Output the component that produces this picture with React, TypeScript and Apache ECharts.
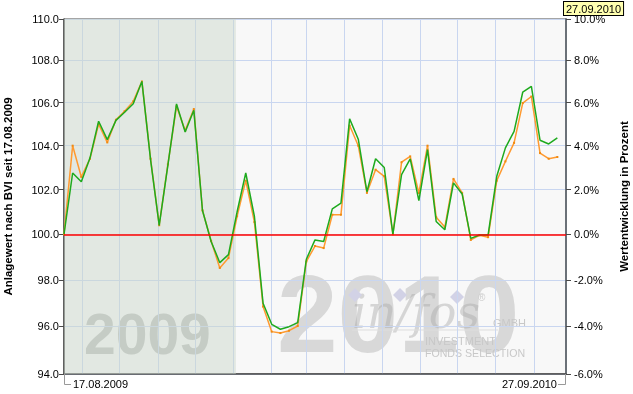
import React, { useEffect, useRef } from "react";
import * as echarts from "echarts";

// weekly valuation dates (Mondays)
const dates = [
  "2009-08-17", "2009-08-24", "2009-08-31", "2009-09-07", "2009-09-14", "2009-09-21", "2009-09-28",
  "2009-10-05", "2009-10-12", "2009-10-19", "2009-10-26", "2009-11-02", "2009-11-09", "2009-11-16",
  "2009-11-23", "2009-11-30", "2009-12-07", "2009-12-14", "2009-12-21", "2009-12-28", "2010-01-04",
  "2010-01-11", "2010-01-18", "2010-01-25", "2010-02-01", "2010-02-08", "2010-02-15", "2010-02-22",
  "2010-03-01", "2010-03-08", "2010-03-15", "2010-03-22", "2010-03-29", "2010-04-05", "2010-04-12",
  "2010-04-19", "2010-04-26", "2010-05-03", "2010-05-10", "2010-05-17", "2010-05-24", "2010-05-31",
  "2010-06-07", "2010-06-14", "2010-06-21", "2010-06-28", "2010-07-05", "2010-07-12", "2010-07-19",
  "2010-07-26", "2010-08-02", "2010-08-09", "2010-08-16", "2010-08-23", "2010-08-30", "2010-09-06",
  "2010-09-13", "2010-09-20",
];

const orangeValues = [
  100.0, 104.0, 102.57, 103.4, 105.0, 104.15, 105.2, 105.6, 106.06, 107.0,
  103.4, 100.4, 103.14, 105.83, 104.7, 105.7, 101.06, 99.7, 98.52, 98.95,
  100.8, 102.4, 100.54, 96.85, 95.78, 95.72, 95.82, 96.02, 98.8, 99.48,
  99.39, 100.87, 100.87, 104.93, 104.0, 101.85, 102.9, 102.6, 100.0, 103.24,
  103.51, 101.84, 104.0, 100.76, 100.32, 102.48, 101.85, 99.75, 99.95, 99.87,
  102.4, 103.28, 104.13, 105.98, 106.29, 103.66, 103.4, 103.48,
];

const greenValues = [
  100.0, 102.75, 102.35, 103.43, 105.13, 104.28, 105.17, 105.55, 105.95, 107.0,
  103.36, 100.39, 103.1, 105.94, 104.63, 105.64, 101.06, 99.68, 98.75, 99.1,
  101.0, 102.75, 100.79, 96.99, 96.09, 95.88, 95.99, 96.16, 98.9, 99.75,
  99.68, 101.13, 101.39, 105.24, 104.3, 101.9, 103.4, 103.0, 100.0, 102.68,
  103.39, 101.5, 103.82, 100.57, 100.2, 102.3, 101.8, 99.82, 99.97, 99.97,
  102.6, 103.9, 104.66, 106.49, 106.77, 104.25, 104.08, 104.36,
];

const yTicks = [94, 96, 98, 100, 102, 104, 106, 108, 110];
const monthTicks = [
  "2009-09-01", "2009-10-01", "2009-11-01", "2009-12-01", "2010-01-01", "2010-02-01", "2010-03-01",
  "2010-04-01", "2010-05-01", "2010-06-01", "2010-07-01", "2010-08-01", "2010-09-01",
];
const startDate = "2009-08-17";
const endDate = "2010-09-27";
const shadeEnd = "2010-01-03";
const baseline = 100;

const FONT = "'Liberation Sans', Arial, sans-serif";

function ts(s: string): number {
  const [y, m, d] = s.split("-").map(Number);
  return new Date(y, m - 1, d).getTime();
}
function fmtDate(v: number): string {
  const d = new Date(v);
  const p = (n: number) => (n < 10 ? "0" + n : "" + n);
  return p(d.getDate()) + "." + p(d.getMonth() + 1) + "." + d.getFullYear();
}

export default function App() {
  const ref = useRef<HTMLDivElement>(null);
  useEffect(() => {
    if (!ref.current) return;
    const chart = echarts.init(ref.current, undefined, { renderer: "svg" });
    const startTs = ts(startDate);
    const endTs = ts(endDate);
    const gridColor = "#c9d6f0";
    const option: any = {
      animation: false,
      grid: {
        left: 64, right: 67, top: 19, bottom: 20,
        show: true, borderColor: "#4a4a4a", borderWidth: 1, backgroundColor: "transparent",
        outerBoundsMode: "none",
      },
      xAxis: {
        type: "value",
        min: startTs,
        max: endTs,
        axisLine: { show: true, onZero: false, lineStyle: { color: "#4a4a4a", width: 1.5 } },
        axisTick: { show: false, customValues: monthTicks.map(ts) },
        splitLine: { show: true, lineStyle: { color: gridColor, width: 1 } },
        axisLabel: {
          customValues: [startTs, endTs],
          alignMinLabel: "left",
          alignMaxLabel: "right",
          showMinLabel: true,
          showMaxLabel: true,
          hideOverlap: false,
          margin: 4,
          formatter: (v: number) => (v <= startTs ? "{l|" + fmtDate(v) + "}" : "{r|" + fmtDate(v) + "}"),
          rich: {
            l: { padding: [0, 0, 0, 9], fontSize: 11, color: "#000", fontFamily: FONT },
            r: { padding: [0, 9, 0, 0], fontSize: 11, color: "#000", fontFamily: FONT },
          },
        },
      },
      yAxis: [
        {
          type: "log",
          logBase: 10,
          min: 94,
          max: 110,
          position: "left",
          name: "Anlagewert nach BVI seit 17.08.2009",
          nameLocation: "middle",
          nameRotate: 90,
          nameGap: 50,
          nameMoveOverlap: false,
          nameTextStyle: { fontWeight: "bold", fontSize: 11.5, color: "#000", fontFamily: FONT },
          axisLine: { show: true, lineStyle: { color: "#4a4a4a", width: 1.5 } },
          axisTick: { show: true, length: 5, customValues: yTicks, lineStyle: { color: "#4a4a4a" } },
          axisLabel: {
            customValues: yTicks,
            formatter: (v: number) => v.toFixed(1),
            margin: 5,
            fontSize: 11,
            color: "#000",
            fontFamily: FONT,
          },
          splitLine: { show: true, lineStyle: { color: gridColor, width: 1 } },
        },
        {
          type: "log",
          logBase: 10,
          min: 94,
          max: 110,
          position: "right",
          name: "Wertentwicklung in Prozent",
          nameLocation: "middle",
          nameRotate: 90,
          nameGap: 52,
          nameMoveOverlap: false,
          nameTextStyle: { fontWeight: "bold", fontSize: 11.5, color: "#000", fontFamily: FONT },
          axisLine: { show: true, lineStyle: { color: "#6b7178", width: 2 } },
          axisTick: { show: true, length: 5, customValues: yTicks, lineStyle: { color: "#4a4a4a" } },
          axisLabel: {
            customValues: yTicks,
            formatter: (v: number) => (v - baseline).toFixed(1) + "%",
            margin: 8,
            fontSize: 11,
            color: "#000",
            fontFamily: FONT,
          },
          splitLine: { show: false },
        },
      ],
      graphic: [
        { type: "rect", z: -10, silent: true, shape: { x: 64, y: 19, width: 502, height: 355 }, style: { fill: "#f8f8f8" } },
        { type: "text", z: -5, silent: true, style: { x: 84, y: 334, text: "2009", font: "bold 57px " + FONT, fill: "#bfc1bf", verticalAlign: "middle" } },
        { type: "text", z: -5, silent: true, style: { x: 277, y: 314, text: "2010", font: "bold 109px " + FONT, fill: "#d8d8d8", verticalAlign: "middle" } },
        { type: "text", z: -4, silent: true, style: { x: 352, y: 312, text: "in/fos", font: "italic 46px 'DejaVu Serif', serif", fill: "rgba(170,170,170,0.45)", verticalAlign: "middle" } },
        { type: "polygon", z: -4, silent: true, shape: { points: [[355, 288], [362, 295], [355, 302], [348, 295]] }, style: { fill: "#d2d2e6" } },
        { type: "polygon", z: -4, silent: true, shape: { points: [[400, 288], [407, 295], [400, 302], [393, 295]] }, style: { fill: "#d2d2e6" } },
        { type: "polygon", z: -4, silent: true, shape: { points: [[457, 290], [464, 297], [457, 304], [450, 297]] }, style: { fill: "#d2d2e6" } },
        { type: "text", z: -4, silent: true, style: { x: 478, y: 297, text: "®", font: "10px " + FONT, fill: "#cccccc", verticalAlign: "middle" } },
        { type: "line", z: -4, silent: true, shape: { x1: 352, y1: 330, x2: 498, y2: 330 }, style: { stroke: "#dddddd", lineWidth: 1 } },
        { type: "text", z: -4, silent: true, style: { x: 493, y: 323, text: "GMBH", font: "11px " + FONT, fill: "#c8c8c8", verticalAlign: "middle" } },
        { type: "text", z: -4, silent: true, style: { x: 425, y: 341, text: "INVESTMENT", font: "11px " + FONT, fill: "#c8c8c8", verticalAlign: "middle" } },
        { type: "text", z: -4, silent: true, style: { x: 425, y: 353, text: "FONDS SELECTION", font: "10.6px " + FONT, fill: "#c8c8c8", verticalAlign: "middle" } },
        { type: "polyline", z: 10, silent: true, shape: { points: [[64.5, 374], [64.5, 384.5], [71, 384.5]] }, style: { stroke: "#999999", lineWidth: 1, fill: null } },
        { type: "polyline", z: 10, silent: true, shape: { points: [[565.5, 374], [565.5, 384.5], [558, 384.5]] }, style: { stroke: "#999999", lineWidth: 1, fill: null } },
        {
          type: "text", z: 20, silent: true,
          style: {
            x: 564, y: 2, text: fmtDate(endTs), font: "11px " + FONT, fill: "#000",
            backgroundColor: "#ffffb0", borderColor: "#000", borderWidth: 1, padding: [1, 2, 1, 2],
          },
        },
      ],
      series: [
        {
          type: "line",
          name: "Orange",
          yAxisIndex: 0,
          data: dates.map((d, i) => [ts(d), orangeValues[i]]),
          symbol: "rect",
          symbolSize: 2,
          showSymbol: true,
          itemStyle: { color: "#f08a10" },
          lineStyle: { color: "#ff9a30", width: 1.5 },
          z: 3,
          markLine: {
            silent: true,
            symbol: ["none", "none"],
            label: { show: false },
            lineStyle: { color: "#ff0000", width: 1.5, type: "solid" },
            data: [{ yAxis: baseline }],
          },
          markArea: {
            silent: true,
            itemStyle: { color: "rgba(204,216,204,0.5)" },
            data: [[{ xAxis: ts(startDate) }, { xAxis: ts(shadeEnd) }]],
          },
        },
        {
          type: "line",
          name: "Grün",
          yAxisIndex: 0,
          data: dates.map((d, i) => [ts(d), greenValues[i]]),
          symbol: "none",
          lineStyle: { color: "#1eaa1e", width: 1.5 },
          z: 4,
        },
      ],
    };
    chart.setOption(option);
    return () => chart.dispose();
  }, []);
  return <div ref={ref} style={{ position: "fixed", left: 0, top: 0, width: 633, height: 394 }} />;
}
